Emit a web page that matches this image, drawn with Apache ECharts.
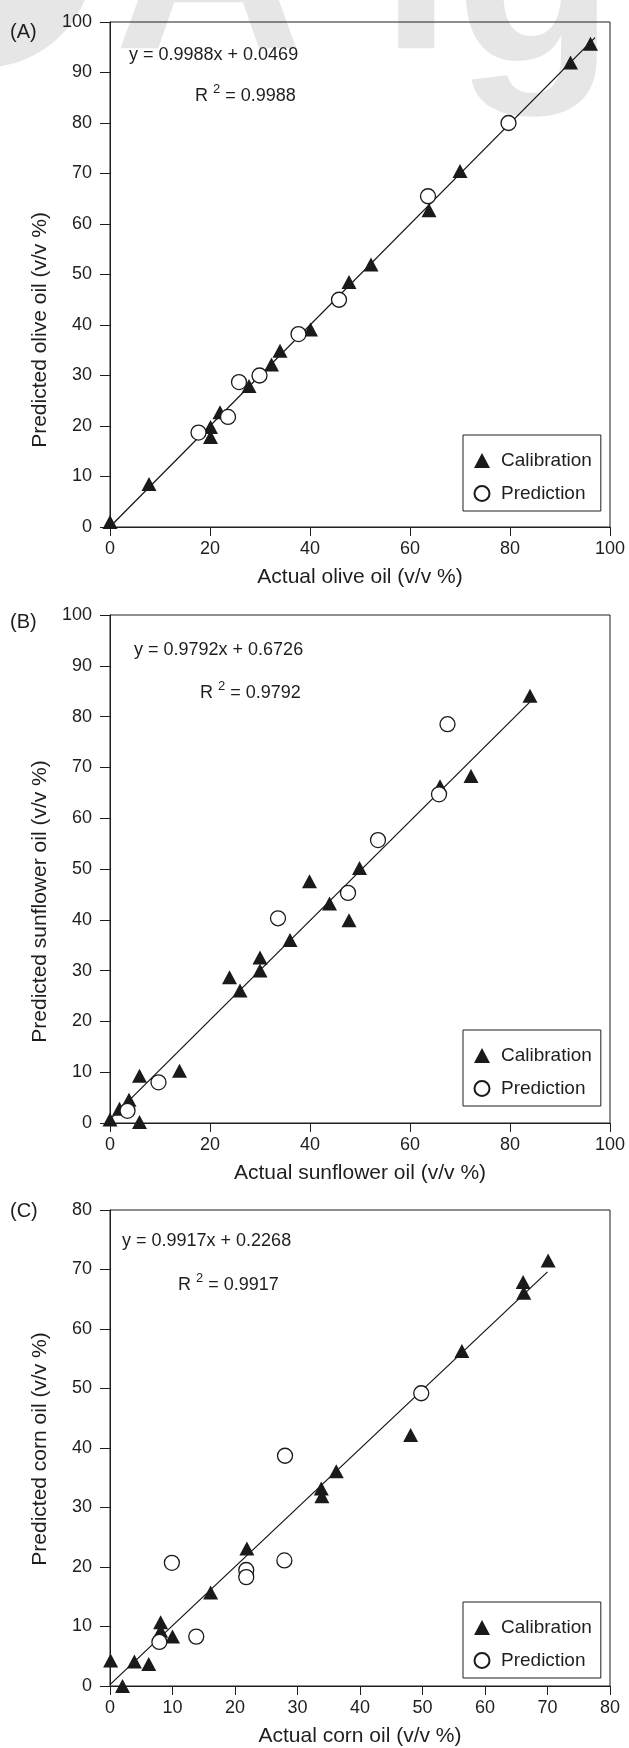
<!DOCTYPE html>
<html><head><meta charset="utf-8">
<script src="https://cdn.jsdelivr.net/npm/echarts@6/dist/echarts.min.js"></script>
<style>html,body{margin:0;padding:0;background:#fff}#c{width:629px;height:1748px}</style>
</head><body><div id="c"></div>
<script>
// ---------- data ----------
const seriesNames = ['Calibration', 'Prediction'];

// (A) olive oil
const oliveCal = [[0,1.0],[7.8,8.5],[20.1,17.8],[20.1,19.8],[22.0,22.7],[27.8,27.9],[32.3,32.2],[34.0,34.9],[40.1,39.1],[47.8,48.5],[52.2,52.0],[63.8,62.7],[70.0,70.5],[92.1,92.0],[96.1,95.7]];
const olivePred = [[17.7,18.7],[23.6,21.8],[25.8,28.7],[29.9,30.0],[37.7,38.2],[45.8,45.0],[63.6,65.5],[79.7,80.0]];
const oliveFit = [[0,0.05],[97,96.9]];

// (B) sunflower oil
const sunCal = [[0,0.7],[1.9,2.8],[3.8,4.6],[5.9,0.2],[5.9,9.3],[13.9,10.3],[23.9,28.7],[26.0,26.1],[30.0,30.0],[30.0,32.6],[36.0,36.0],[39.9,47.6],[43.9,43.2],[47.8,39.9],[49.9,50.2],[66.0,66.3],[72.2,68.3],[84.0,84.1]];
const sunPred = [[3.5,2.4],[9.7,8.0],[33.6,40.3],[47.6,45.3],[53.6,55.7],[65.8,64.7],[67.5,78.5]];
const sunFit = [[0,0.7],[84,82.9]];

// (C) corn oil
const cornCal = [[0.1,4.3],[2.0,0],[3.9,4.1],[6.2,3.7],[8.1,10.7],[8.1,9.3],[10.0,8.3],[16.1,15.7],[21.9,23.1],[33.8,33.2],[33.9,31.9],[36.2,36.1],[48.1,42.2],[56.3,56.3],[66.1,67.9],[66.2,66.1],[70.1,71.5]];
const cornPred = [[7.9,7.4],[9.9,20.7],[13.8,8.3],[21.8,19.5],[21.8,18.3],[27.9,21.1],[28.0,38.7],[49.8,49.2]];
const cornFit = [[0,0.23],[70,69.6]];

const panelLabels = ['(A)', '(B)', '(C)'];
const xTitles = ['Actual olive oil (v/v %)', 'Actual sunflower oil (v/v %)', 'Actual corn oil (v/v %)'];
const yTitles = ['Predicted olive oil (v/v %)', 'Predicted sunflower oil (v/v %)', 'Predicted corn oil (v/v %)'];
const equations = ['y = 0.9988x + 0.0469', 'y = 0.9792x + 0.6726', 'y = 0.9917x + 0.2268'];
const r2Values = ['0.9988', '0.9792', '0.9917'];
const axisMax = [100, 100, 80];
const xTickStep = [20, 20, 10];
const yTickStep = [10, 10, 10];

// ---------- layout ----------
const FONT = "'Liberation Sans', Arial, Helvetica, sans-serif";
const INK = '#1e1e1e';
const grids = [
  {left:110, top:22,   width:500, height:505},
  {left:110, top:615,  width:500, height:508},
  {left:110, top:1210, width:500, height:477}
];
const legendTops = [435, 1030, 1602];
const yTitleShift = [111, 65, 2];   // reference titles sit below the axis middle
const labelPos = [[10, 22], [10, 612], [10, 1201]];
const eqPos = [[129, 46], [134, 641], [122, 1232]];
const r2Pos = [[195, 83], [200, 680], [178, 1272]];

const calData = [oliveCal, sunCal, cornCal];
const predData = [olivePred, sunPred, cornPred];
const fitData = [oliveFit, sunFit, cornFit];

const xAxes = [], yAxes = [], series = [], legends = [], graphics = [];

// watermark (light grey logo letters cut off at the top)
const WM = "bold 262px 'Liberation Sans', Arial, sans-serif";
graphics.push({type:'circle', shape:{cx:-18, cy:-44, r:112}, style:{fill:'#e6e6e6'}, z:-10, silent:true});
graphics.push({type:'text', x:114, y:-155, style:{text:'A', font:WM, fill:'#e6e6e6'}, z:-10, silent:true});
graphics.push({type:'text', x:380, y:-155, style:{text:'l', font:WM, fill:'#e6e6e6'}, z:-10, silent:true});
graphics.push({type:'text', x:455, y:-142, style:{text:'g', font:WM, fill:'#e6e6e6'}, z:-10, silent:true});

for (let i = 0; i < 3; i++) {
  xAxes.push({
    gridIndex:i, type:'value', min:0, max:axisMax[i], interval:xTickStep[i],
    name:xTitles[i], nameLocation:'middle', nameGap:40,
    nameTextStyle:{fontSize:21, color:INK, fontFamily:FONT},
    axisLine:{onZero:false, lineStyle:{color:INK, width:1}},
    axisTick:{length:9, lineStyle:{color:INK, width:1}},
    axisLabel:{fontSize:18, color:INK, fontFamily:FONT, margin:13},
    splitLine:{show:false}
  });
  yAxes.push({
    gridIndex:i, type:'value', min:0, max:axisMax[i], interval:yTickStep[i],
    name:yTitles[i], nameLocation:'middle', nameGap:59,
    nameTextStyle:{fontSize:21, color:INK, fontFamily:FONT, padding:[0, yTitleShift[i], 0, 0]},
    axisLine:{onZero:false, lineStyle:{color:INK, width:1}},
    axisTick:{length:10, lineStyle:{color:INK, width:1}},
    axisLabel:{fontSize:18, color:INK, fontFamily:FONT, margin:18},
    splitLine:{show:false}
  });
  series.push({
    name:'fit' + i, type:'line', xAxisIndex:i, yAxisIndex:i, data:fitData[i],
    symbol:'none', lineStyle:{color:'#111', width:1.2}, silent:true, z:1
  });
  series.push({
    name:seriesNames[0], type:'scatter', xAxisIndex:i, yAxisIndex:i, data:calData[i],
    symbol:'triangle', symbolSize:[15,14], itemStyle:{color:'#1a1a1a', opacity:1}, z:3
  });
  series.push({
    name:seriesNames[1], type:'scatter', xAxisIndex:i, yAxisIndex:i, data:predData[i],
    symbol:'circle', symbolSize:15, itemStyle:{color:'#ffffff', borderColor:'#1a1a1a', borderWidth:1.3, opacity:1}, z:3
  });
  legends.push({
    orient:'vertical', left:463, top:legendTops[i], data:seriesNames,
    itemWidth:16, itemHeight:15, itemGap:14, padding:[16, 9, 8, 10.5],
    borderColor:INK, borderWidth:1, backgroundColor:'#fff', selectedMode:false,
    textStyle:{fontSize:19, color:INK, fontFamily:FONT, padding:[0, 0, 0, 6]}
  });
  graphics.push({type:'text', x:labelPos[i][0], y:labelPos[i][1], style:{text:panelLabels[i], font:'20px ' + FONT, fill:INK}});
  graphics.push({type:'text', x:eqPos[i][0], y:eqPos[i][1], style:{text:equations[i], font:'18px ' + FONT, fill:INK}});
  graphics.push({type:'text', x:r2Pos[i][0], y:r2Pos[i][1], style:{
    text:'R {s|2} = ' + r2Values[i], font:'18px ' + FONT, fill:INK, lineHeight:27,
    rich:{s:{fontSize:13, fontFamily:FONT, verticalAlign:'top', lineHeight:12}}
  }});
}

const chart = echarts.init(document.getElementById('c'), null, {renderer:'canvas', width:629, height:1748});
chart.setOption({
  animation:false,
  backgroundColor:'#ffffff',
  textStyle:{fontFamily:FONT},
  grid:grids.map(g => Object.assign({show:true, borderColor:INK, borderWidth:1, backgroundColor:'transparent'}, g)),
  xAxis:xAxes,
  yAxis:yAxes,
  legend:legends,
  series:series,
  graphic:graphics
});
</script></body></html>
